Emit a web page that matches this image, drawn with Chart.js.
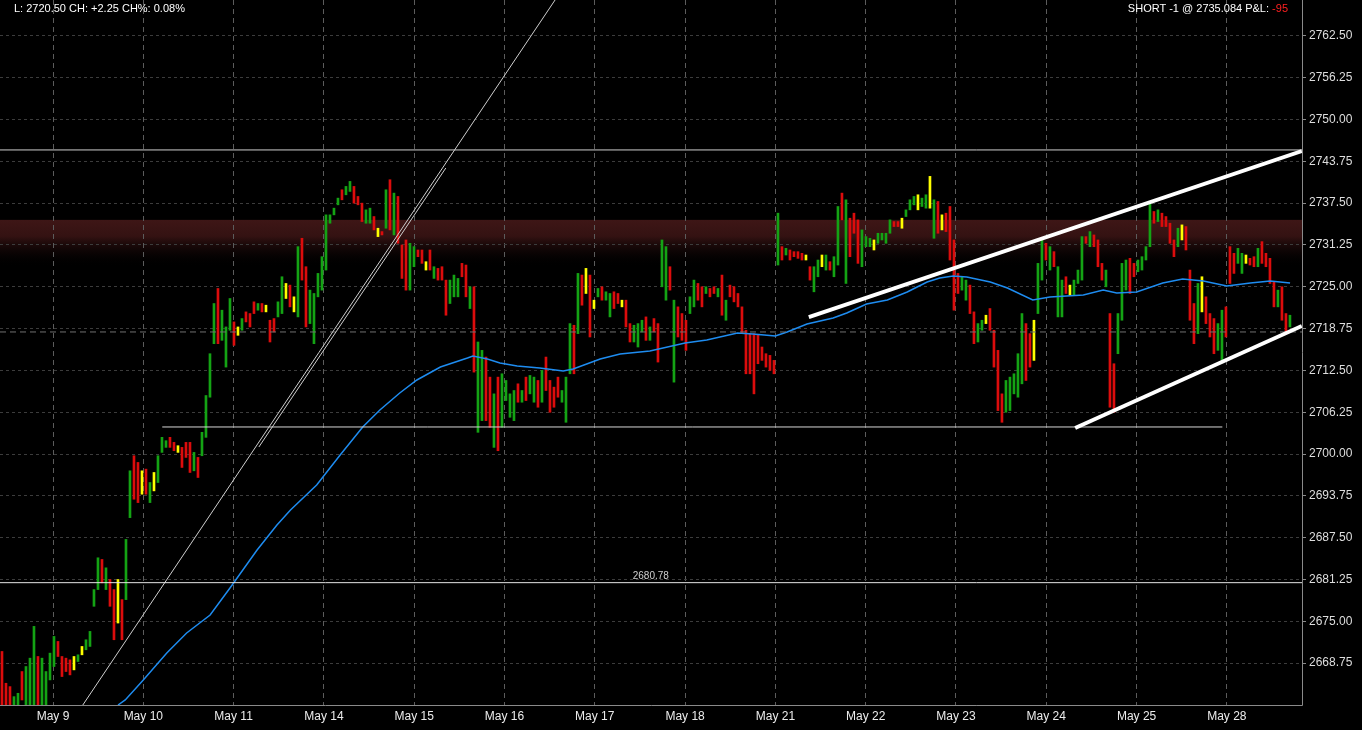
<!DOCTYPE html>
<html>
<head>
<meta charset="utf-8">
<script src="https://cdn.jsdelivr.net/npm/chart.js@4.4.1/dist/chart.umd.min.js"></script>
<style>
    html, body { margin: 0; padding: 0; background: #000; }
    #chart { display: block; }
</style>
</head>
<body>
<canvas id="chart" width="1362" height="730"></canvas>
<script>
// Jours (axe X)
const dayLabels = ['May 9', 'May 10', 'May 11', 'May 14', 'May 15', 'May 16', 'May 17',
    'May 18', 'May 21', 'May 22', 'May 23', 'May 24', 'May 25', 'May 28'];

// Graduations prix (axe Y)
const yTicks = [2668.75, 2675.00, 2681.25, 2687.50, 2693.75, 2700.00, 2706.25, 2712.50,
    2718.75, 2725.00, 2731.25, 2737.50, 2743.75, 2750.00, 2756.25, 2762.50];

// Barres : plus haut / plus bas, sens (g = hausse, r = baisse, y = neutre)
const firstBar = -0.565;
const barsPerDay = 22.575;
const highs = [
    2670.5, 2665.75, 2665.25, 2663.75, 2664.25, 2667.5, 2668.25, 2669.5, 2674.25, 2669.75,
    2669.5, 2667.5, 2670.25, 2672.75, 2672.0, 2669.75, 2669.5, 2669.25, 2669.75, 2670.0,
    2671.25, 2672.25, 2673.5, 2679.75, 2684.5, 2684.25, 2683.0, 2681.25, 2679.75, 2681.25,
    2678.25, 2687.25, 2697.5, 2699.75, 2698.75, 2697.5, 2697.75, 2695.75, 2697.25, 2699.75,
    2702.5, 2702.0, 2702.5, 2701.75, 2701.25, 2701.0, 2701.75, 2701.75, 2700.25, 2699.5,
    2703.25, 2708.75, 2715.0, 2722.5, 2724.75, 2721.5, 2719.0, 2723.25, 2719.75, 2719.0,
    2720.25, 2721.25, 2721.0, 2722.75, 2722.5, 2722.5, 2722.25, 2720.0, 2720.25, 2722.75,
    2726.5, 2725.5, 2725.25, 2723.5, 2731.0, 2732.25, 2728.0, 2724.5, 2724.0, 2727.0,
    2729.5, 2735.75, 2735.75, 2736.75, 2738.25, 2739.5, 2740.0, 2740.75, 2740.0, 2738.5,
    2737.5, 2736.5, 2736.75, 2735.5, 2733.75, 2733.25, 2739.5, 2741.0, 2739.0, 2738.5,
    2731.25, 2732.0, 2731.5, 2731.0, 2730.5, 2730.5, 2728.75, 2730.5, 2728.0, 2727.75,
    2728.0, 2726.0, 2726.0, 2726.75, 2726.25, 2728.5, 2728.25, 2725.0, 2725.0, 2716.75,
    2715.5, 2714.5, 2711.5, 2709.0, 2711.5, 2712.0, 2711.0, 2709.0, 2709.5, 2710.5,
    2709.5, 2711.5, 2711.75, 2711.5, 2711.0, 2712.5, 2714.5, 2711.0, 2710.0, 2711.5,
    2709.5, 2711.5, 2719.5, 2719.25, 2727.0, 2726.75, 2727.75, 2726.75, 2723.0, 2724.75,
    2725.0, 2724.25, 2724.0, 2724.25, 2724.0, 2723.0, 2723.0, 2719.5, 2719.25, 2719.5,
    2720.0, 2720.5, 2719.0, 2720.25, 2719.5, 2732.0, 2731.0, 2728.0, 2723.0, 2722.0,
    2721.0, 2720.0, 2723.5, 2726.0, 2725.5, 2725.0, 2725.0, 2724.75, 2725.0, 2724.75,
    2726.75, 2723.0, 2725.25, 2725.0, 2724.0, 2722.0, 2718.5, 2718.0, 2718.0, 2717.75,
    2716.0, 2715.0, 2714.75, 2714.0, 2736.0, 2731.0, 2730.75, 2730.5, 2730.25, 2730.25,
    2730.0, 2729.75, 2728.0, 2728.0, 2729.0, 2729.75, 2729.75, 2728.75, 2729.5, 2737.0,
    2739.0, 2738.0, 2735.25, 2736.0, 2735.0, 2733.5, 2732.5, 2732.25, 2732.0, 2733.0,
    2733.0, 2733.0, 2735.0, 2734.75, 2734.75, 2735.25, 2736.5, 2738.0, 2738.5, 2738.75,
    2738.25, 2738.75, 2741.5, 2738.0, 2737.75, 2735.75, 2736.0, 2737.0, 2732.0, 2727.0,
    2726.5, 2726.0, 2725.25, 2721.25, 2719.5, 2720.0, 2720.75, 2721.75, 2718.5, 2715.5,
    2709.0, 2711.0, 2711.5, 2712.0, 2715.0, 2721.0, 2719.5, 2718.0, 2720.0, 2728.5,
    2732.0, 2731.5, 2731.0, 2730.25, 2728.0, 2726.0, 2726.5, 2725.25, 2726.0, 2727.5,
    2732.5, 2732.5, 2733.25, 2732.75, 2732.0, 2728.5, 2727.5, 2721.0, 2713.5, 2721.0,
    2728.5, 2729.0, 2729.25, 2728.5, 2729.0, 2729.5, 2731.0, 2737.5, 2736.25, 2736.5,
    2736.0, 2735.5, 2734.5, 2732.0, 2733.75, 2734.25, 2734.0, 2727.5, 2722.5, 2725.5,
    2726.5, 2723.5, 2721.0, 2720.25, 2719.5, 2721.5, 2722.0, 2731.0, 2730.0, 2730.75,
    2730.0, 2729.75, 2729.25, 2729.5, 2730.75, 2731.75, 2730.0, 2729.25, 2725.75, 2724.5,
    2725.0, 2721.0, 2720.75
];
const lows = [
    2661, 2661, 2661, 2661, 2661, 2663.25, 2661, 2661, 2661, 2661,
    2661, 2661, 2666.25, 2668.25, 2669.75, 2666.75, 2667.5, 2667.0, 2667.75, 2669.0,
    2670.0, 2670.75, 2671.25, 2677.25, 2679.75, 2680.75, 2679.75, 2677.25, 2672.25, 2674.75,
    2672.25, 2678.25, 2690.5, 2693.25, 2692.75, 2694.0, 2694.0, 2692.75, 2694.5, 2695.75,
    2700.25, 2701.0, 2701.0, 2700.5, 2700.25, 2698.0, 2699.5, 2697.25, 2697.5, 2696.5,
    2699.75, 2702.5, 2708.5, 2716.5, 2716.5, 2717.0, 2713.0, 2718.5, 2716.25, 2717.75,
    2718.5, 2719.75, 2719.0, 2721.0, 2721.5, 2721.25, 2721.25, 2716.75, 2718.25, 2720.5,
    2721.0, 2723.25, 2722.0, 2721.25, 2720.5, 2726.0, 2719.0, 2719.5, 2716.5, 2723.5,
    2724.5, 2727.5, 2734.5, 2735.75, 2737.25, 2738.0, 2738.75, 2739.25, 2737.5, 2737.25,
    2734.75, 2734.5, 2734.5, 2733.5, 2732.5, 2732.75, 2733.75, 2733.5, 2732.75, 2731.5,
    2726.25, 2724.5, 2724.5, 2728.0, 2729.5, 2728.5, 2727.5, 2727.5, 2726.25, 2726.0,
    2726.0, 2720.75, 2722.5, 2723.5, 2723.5, 2726.5, 2723.5, 2721.75, 2712.25, 2703.25,
    2705.0, 2705.0, 2704.0, 2701.0, 2700.5, 2704.0, 2708.0, 2705.5, 2705.0, 2707.75,
    2707.75, 2708.0, 2709.0, 2707.75, 2707.0, 2707.75, 2709.5, 2706.25, 2707.0, 2708.5,
    2707.75, 2704.75, 2712.0, 2712.0, 2718.0, 2722.25, 2724.0, 2717.5, 2721.75, 2723.5,
    2723.0, 2723.0, 2720.5, 2721.75, 2722.5, 2722.0, 2719.0, 2716.75, 2716.75, 2716.0,
    2718.25, 2717.0, 2717.0, 2718.25, 2713.75, 2725.0, 2723.0, 2724.5, 2710.75, 2717.5,
    2717.0, 2715.5, 2721.0, 2722.0, 2723.0, 2722.0, 2724.0, 2723.5, 2724.0, 2723.5,
    2720.75, 2720.0, 2723.5, 2722.75, 2722.0, 2718.0, 2712.0, 2712.0, 2709.0, 2713.5,
    2714.0, 2713.0, 2712.5, 2712.0, 2728.25, 2729.0, 2729.75, 2729.0, 2729.5, 2729.25,
    2729.0, 2729.0, 2726.0, 2724.25, 2726.5, 2728.0, 2727.5, 2727.5, 2726.5, 2728.25,
    2735.0, 2725.5, 2729.5, 2733.0, 2728.5, 2728.0, 2731.0, 2731.0, 2730.5, 2731.5,
    2732.0, 2731.5, 2733.0, 2734.0, 2734.0, 2733.75, 2735.5, 2736.5, 2737.25, 2736.5,
    2737.0, 2736.75, 2736.75, 2732.25, 2733.0, 2733.5, 2733.25, 2729.0, 2721.5, 2724.0,
    2724.5, 2723.0, 2721.0, 2716.5, 2716.75, 2718.5, 2719.5, 2718.5, 2713.0, 2706.5,
    2704.75, 2706.25, 2706.5, 2709.0, 2708.5, 2710.5, 2711.0, 2713.0, 2714.0, 2721.0,
    2726.0, 2729.0, 2727.5, 2728.0, 2720.5, 2720.5, 2724.0, 2723.75, 2723.75, 2725.5,
    2726.0, 2731.5, 2731.0, 2731.0, 2728.0, 2726.0, 2725.0, 2707.0, 2706.25, 2715.0,
    2720.0, 2724.5, 2724.0, 2726.5, 2727.25, 2727.5, 2729.0, 2731.0, 2734.5, 2734.75,
    2734.0, 2734.0, 2731.5, 2729.5, 2731.0, 2732.0, 2730.5, 2720.0, 2716.5, 2718.0,
    2721.25, 2719.5, 2717.5, 2715.0, 2715.5, 2714.0, 2717.5, 2725.5, 2727.0, 2728.5,
    2727.0, 2728.5, 2728.25, 2728.0, 2728.0, 2728.5, 2728.0, 2725.5, 2722.0, 2722.0,
    2720.0, 2718.25, 2719.0
];
const dirs = 'rrrggrgggr' + 'ggggrrrryg' + 'yggggrgrry' + 'rggrryrgyg' + 'ggrryrrrgr' +
    'ggggrgggry' + 'grrrgryrrg' + 'gyrygrrggg' + 'gggggrggrr' + 'rggryrgrgr' +
    'rrggrryrgr' + 'rrgggrrgrg' + 'grrgrggggr' + 'grggrgrrrr' + 'gggrgryryg' +
    'rggrryrrgg' + 'grgrrggrgr' + 'rrggrrgrrg' + 'rgrrrrrrrr' + 'rrrrgrgrrr' +
    'ryrggygrgg' + 'rgrrrgggyg' + 'gggrrygggy' + 'ggygryrrrr' + 'ggrrggyrrr' +
    'rgggggrryg' + 'grgrggrygg' + 'grgrrrgrrg' + 'ggrrggggrg' + 'rrrrgyrrrg' +
    'yrrrggrrrg' + 'gyrrgrrrrg' + 'rrg';

// Moyenne mobile
const maDays = [0.72, 0.80, 1.00, 1.26, 1.48, 1.74, 1.96, 2.26, 2.48, 2.63,
    2.92, 3.18, 3.43, 3.62, 3.84, 4.03, 4.29, 4.59, 4.65, 4.81,
    4.95, 5.14, 5.39, 5.65, 5.76, 5.91, 6.06, 6.28, 6.61, 7.00,
    7.24, 7.58, 7.75, 8.00, 8.13, 8.35, 8.64, 8.79, 9.01, 9.24,
    9.46, 9.68, 9.82, 9.97, 10.12, 10.38, 10.57, 10.85, 11.04, 11.41,
    11.63, 11.78, 12.00, 12.29, 12.51, 12.74, 13.00, 13.26, 13.48, 13.70];
const maValues = [2662.5, 2663.25, 2666.23, 2670.27, 2673.26, 2675.95, 2679.98, 2685.66, 2689.40, 2691.64,
    2695.38, 2699.86, 2704.05, 2706.59, 2709.13, 2711.07, 2713.01, 2714.36, 2714.66, 2714.21,
    2713.61, 2713.16, 2712.86, 2712.41, 2712.71, 2713.46, 2714.21, 2714.95, 2715.40, 2716.60,
    2717.05, 2718.09, 2717.94, 2717.64, 2718.24, 2719.44, 2720.33, 2721.08, 2722.43, 2723.03,
    2724.22, 2725.72, 2726.31, 2726.61, 2726.46, 2725.72, 2724.82, 2723.03, 2723.47, 2723.77,
    2724.52, 2724.07, 2724.22, 2725.57, 2726.16, 2725.87, 2725.12, 2725.57, 2725.87, 2725.57];

// Niveaux et tracés
const xMin = -0.587, xMax = 13.832;
const yMin = 2662.5, yMax = 2767.86;
const topLevel = 2745.45;
const pivotLevel = 2680.78;
const priceLevel = 2718.25;
const supportLine = [[1.21, 2704.05], [12.95, 2704.05]];
const fanLine = [[0.33, 2662.5], [5.56, 2767.86]];
const fanLine2 = [[2.28, 2701.06], [4.35, 2742.75]];
const channelTop = [[8.37, 2720.48], [13.83, 2745.29]];
const channelBottom = [[11.32, 2703.90], [13.83, 2719.14]];
const zoneTop = 2735.0, zoneBottom = 2728.0;

const colorMap = { g: '#14a314', r: '#dc0c0c', y: '#ffff00' };
const pts = arr => arr.map(p => ({ x: p[0], y: p[1] }));

function lineSet(data, color, width, dash) {
    return {
        type: 'line', data: data, borderColor: color, borderWidth: width,
        borderDash: dash || [], pointRadius: 0, tension: 0, order: 1
    };
}

// Fond, zone de résistance, cadre, textes
const decor = {
    id: 'decor',
    beforeDraw(c) {
        const ctx = c.ctx, a = c.chartArea, y = c.scales.y;
        ctx.save();
        ctx.fillStyle = '#000';
        ctx.fillRect(0, 0, c.width, c.height);
        const y1 = y.getPixelForValue(zoneTop), y2 = y.getPixelForValue(zoneBottom);
        const g = ctx.createLinearGradient(0, y1, 0, y2);
        g.addColorStop(0, 'rgba(62,22,22,1)');
        g.addColorStop(0.35, 'rgba(52,18,18,1)');
        g.addColorStop(1, 'rgba(0,0,0,0)');
        ctx.fillStyle = g;
        ctx.fillRect(a.left, y1, a.right - a.left, y2 - y1);
        ctx.restore();
    },
    afterDraw(c) {
        const ctx = c.ctx, a = c.chartArea, x = c.scales.x, y = c.scales.y;
        ctx.save();
        ctx.strokeStyle = '#8a8a8a';
        ctx.lineWidth = 1;
        ctx.beginPath();
        ctx.moveTo(a.right + 0.5, 0);
        ctx.lineTo(a.right + 0.5, a.bottom + 0.5);
        ctx.lineTo(0, a.bottom + 0.5);
        ctx.stroke();

        ctx.font = '10px "Liberation Sans", Arial, sans-serif';
        ctx.fillStyle = '#cfcfcf';
        ctx.textAlign = 'center';
        ctx.textBaseline = 'bottom';
        ctx.fillText(pivotLevel.toFixed(2), x.getPixelForValue(6.62), y.getPixelForValue(pivotLevel) - 1);

        ctx.font = '11px "Liberation Sans", Arial, sans-serif';
        ctx.textBaseline = 'middle';
        ctx.textAlign = 'left';
        ctx.fillStyle = '#ffffff';
        ctx.fillText('L: 2720.50 CH: +2.25 CH%: 0.08%', 14, 9);

        const part1 = 'SHORT -1 @ 2735.084 P&L: ', part2 = '-95';
        const w1 = ctx.measureText(part1).width, w2 = ctx.measureText(part2).width;
        const x0 = 1288 - w1 - w2;
        ctx.fillText(part1, x0, 9);
        ctx.fillStyle = '#ff2020';
        ctx.fillText(part2, x0 + w1, 9);
        ctx.restore();
    }
};

const barData = highs.map((h, i) => ({ x: firstBar + i / barsPerDay, y: [lows[i], h] }));
const barColors = dirs.split('').map(d => colorMap[d]);

new Chart(document.getElementById('chart'), {
    type: 'bar',
    data: {
        datasets: [
            lineSet(pts(channelTop), '#ffffff', 4),
            lineSet(pts(channelBottom), '#ffffff', 4),
            lineSet(pts([[xMin, topLevel], [xMax, topLevel]]), '#cfcfcf', 1),
            lineSet(pts([[xMin, pivotLevel], [xMax, pivotLevel]]), '#e6e6e6', 1),
            lineSet(pts(supportLine), '#d6d6d6', 1),
            lineSet(pts(fanLine), '#cfcfcf', 1),
            lineSet(pts(fanLine2), '#cfcfcf', 1),
            lineSet(pts([[xMin, priceLevel], [xMax, priceLevel]]), '#707070', 1, [6, 4]),
            {
                type: 'line',
                data: maDays.map((d, i) => ({ x: d, y: maValues[i] })),
                borderColor: '#1e8cf0', borderWidth: 1.5,
                pointRadius: 0, tension: 0, order: 2
            },
            {
                type: 'bar',
                data: barData,
                backgroundColor: barColors,
                barThickness: 2,
                grouped: false,
                order: 3
            }
        ]
    },
    options: {
        responsive: false,
        animation: false,
        layout: { padding: 0 },
        plugins: { legend: { display: false }, tooltip: { enabled: false } },
        scales: {
            x: {
                type: 'linear', min: xMin, max: xMax, offset: false,
                afterBuildTicks: s => { s.ticks = dayLabels.map((_, i) => ({ value: i })); },
                afterFit: s => { s.height = 25; s.paddingLeft = 0; s.paddingRight = 0; },
                ticks: {
                    callback: (v, i) => dayLabels[i],
                    color: '#ececec', font: { family: '"Liberation Sans", Arial, sans-serif', size: 12 },
                    padding: 4, autoSkip: false, maxRotation: 0
                },
                grid: { color: '#5c5c5c', drawTicks: false, offset: false },
                border: { display: false, dash: [5, 4] }
            },
            y: {
                position: 'right', min: yMin, max: yMax,
                afterBuildTicks: s => { s.ticks = yTicks.map(v => ({ value: v })); },
                afterFit: s => { s.width = 60; s.paddingTop = 0; s.paddingBottom = 0; },
                ticks: {
                    callback: v => v.toFixed(2),
                    color: '#dedede', font: { family: '"Liberation Sans", Arial, sans-serif', size: 12 },
                    padding: 3
                },
                grid: { color: '#3c3c3c', tickColor: '#8a8a8a', tickLength: 4 },
                border: { display: false, dash: [3, 3] }
            }
        }
    },
    plugins: [decor]
});
</script>
</body>
</html>
